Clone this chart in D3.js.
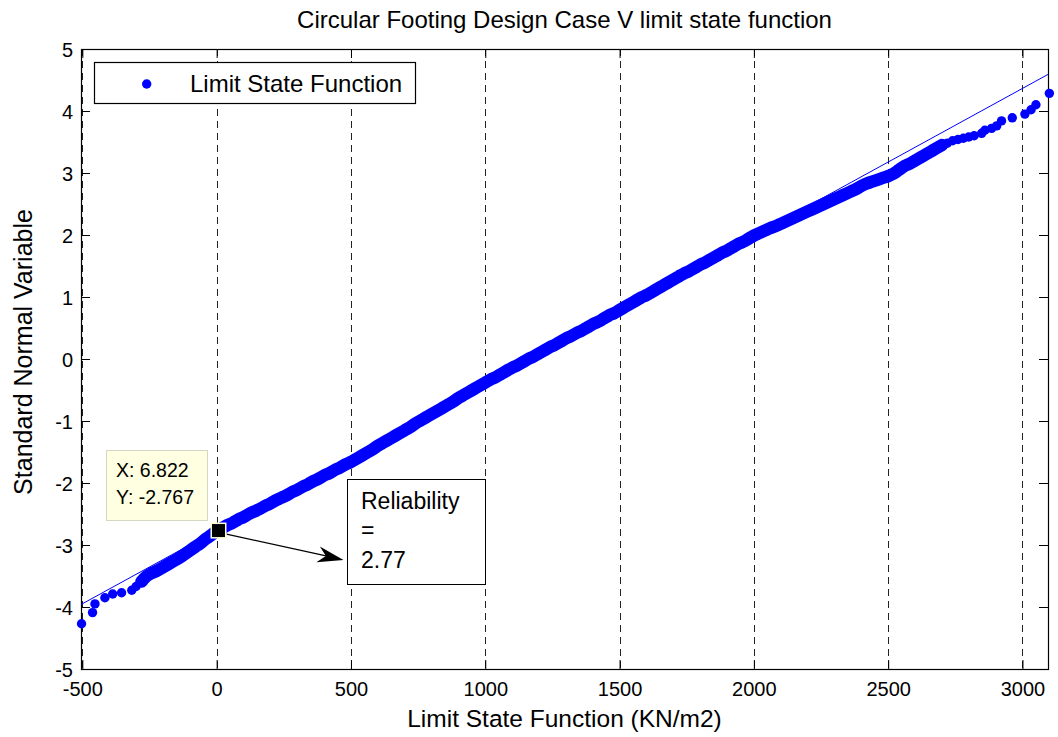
<!DOCTYPE html>
<html>
<head>
<meta charset="utf-8">
<script src="https://cdn.jsdelivr.net/npm/d3@7"></script>
<style>
  html, body { margin: 0; padding: 0; background: #fff; }
  svg { display: block; font-family: "Liberation Sans", Arial, sans-serif; }
</style>
</head>
<body>
<svg id="chart" width="1058" height="737"></svg>
<script>
// ---- data ----
const titleText = "Circular Footing Design Case V limit state function";
const xLabelText = "Limit State Function (KN/m2)";
const yLabelText = "Standard Normal Variable";
const legendLabel = "Limit State Function";

const xTicks = [-500, 0, 500, 1000, 1500, 2000, 2500, 3000];
const yTicks = [-5, -4, -3, -2, -1, 0, 1, 2, 3, 4, 5];
const xDomain = [-505, 3095];
const yDomain = [-5, 5];

// limit state function values (KN/m2)
const lsfValues = [
  -503, -462, -453, -416, -387, -354, -316,
  -300, -280, -260, -240, -220, -200, -180, -160, -140, -120, -100, -80, -60, -40, -20,
  0, 20, 40, 60, 80, 100, 120, 140, 160, 180, 200, 220, 240, 260, 280, 300, 320, 340, 360, 380,
  400, 420, 440, 460, 480, 500, 520, 540, 560, 580, 600, 620, 640, 660, 680, 700, 720, 740, 760, 780,
  800, 820, 840, 860, 880, 900, 920, 940, 960, 980, 1000, 1020, 1040, 1060, 1080, 1100, 1120, 1140, 1160, 1180,
  1200, 1220, 1240, 1260, 1280, 1300, 1320, 1340, 1360, 1380, 1400, 1420, 1440, 1460, 1480, 1500, 1520, 1540, 1560, 1580,
  1600, 1620, 1640, 1660, 1680, 1700, 1720, 1740, 1760, 1780, 1800, 1820, 1840, 1860, 1880, 1900, 1920, 1940, 1960, 1980,
  2000, 2020, 2040, 2060, 2080, 2100, 2120, 2140, 2160, 2180, 2200, 2220, 2240, 2260, 2280, 2300, 2320, 2340, 2360, 2380,
  2400, 2420, 2440, 2460, 2480, 2500, 2520, 2540, 2560, 2580, 2600, 2620, 2640, 2660, 2680, 2700, 2720, 2740, 2760, 2780,
  2800, 2820, 2848, 2860, 2885, 2904, 2922, 2962, 3009, 3032, 3050, 3100
];
// standard normal variable
const snvValues = [
  -4.27, -4.09, -3.95, -3.85, -3.79, -3.77, -3.73,
  -3.67, -3.59, -3.50, -3.45, -3.41, -3.36, -3.31, -3.26, -3.21, -3.15, -3.09, -3.03, -2.97, -2.90, -2.84,
  -2.77, -2.73, -2.68, -2.64, -2.59, -2.55, -2.50, -2.46, -2.42, -2.37, -2.33, -2.28, -2.24, -2.20, -2.15, -2.11, -2.06, -2.02, -1.97, -1.93,
  -1.88, -1.84, -1.79, -1.75, -1.70, -1.66, -1.61, -1.56, -1.51, -1.46, -1.40, -1.35, -1.30, -1.25, -1.20, -1.15, -1.10, -1.04, -0.99, -0.94,
  -0.89, -0.84, -0.79, -0.74, -0.69, -0.63, -0.58, -0.53, -0.48, -0.43, -0.38, -0.33, -0.29, -0.24, -0.19, -0.14, -0.10, -0.05, 0.00, 0.04,
  0.09, 0.14, 0.19, 0.23, 0.28, 0.33, 0.37, 0.42, 0.46, 0.51, 0.56, 0.60, 0.65, 0.70, 0.74, 0.79, 0.84, 0.89, 0.94, 0.99,
  1.03, 1.08, 1.13, 1.18, 1.23, 1.28, 1.33, 1.38, 1.42, 1.47, 1.52, 1.56, 1.61, 1.66, 1.71, 1.75, 1.80, 1.85, 1.89, 1.94,
  1.99, 2.03, 2.07, 2.11, 2.14, 2.18, 2.22, 2.26, 2.30, 2.34, 2.38, 2.42, 2.46, 2.50, 2.54, 2.58, 2.62, 2.66, 2.70, 2.74,
  2.79, 2.83, 2.86, 2.89, 2.92, 2.95, 2.99, 3.05, 3.11, 3.15, 3.20, 3.25, 3.30, 3.35, 3.40, 3.45, 3.48, 3.52, 3.54, 3.56,
  3.58, 3.60, 3.64, 3.69, 3.72, 3.76, 3.84, 3.89, 3.95, 4.02, 4.10, 4.285
];
// range of LSF values where the samples are so dense that they merge into a thick band
const denseRange = [-290, 2700];

// fitted reference line end points
const refLineX = [-505, 3095];
const refLineY = [-3.96, 4.59];

// data tip and annotation
const tipX = 6.822;
const tipY = -2.767;
const tipLines = ["X: 6.822", "Y: -2.767"];
const noteLines = ["Reliability", "=", "2.77"];

// ---- layout ----
const svg = d3.select("#chart");
const plot = { left: 81, right: 1048, top: 49, bottom: 669 };
const x = d3.scaleLinear().domain(xDomain).range([plot.left, plot.right]);
const y = d3.scaleLinear().domain(yDomain).range([plot.bottom, plot.top]);
const blue = "#0000ff";
const FONT = '"Liberation Sans", Arial, sans-serif';

svg.append("rect").attr("width", 1058).attr("height", 737).attr("fill", "#fff");

// vertical grid lines
svg.append("g").selectAll("line").data(xTicks).join("line")
  .attr("x1", d => Math.round(x(d)) + 0.5).attr("x2", d => Math.round(x(d)) + 0.5)
  .attr("y1", plot.top).attr("y2", plot.bottom)
  .attr("stroke", "#222").attr("stroke-width", 1).attr("stroke-dasharray", "7,5");

// axes with ticks inward
const tickLen = 9;
const gx = svg.append("g").attr("transform", `translate(0,${plot.bottom})`)
  .call(d3.axisBottom(x).tickValues(xTicks).tickFormat(d => String(d)).tickSizeInner(-tickLen).tickSizeOuter(0));
const gxTop = svg.append("g").attr("transform", `translate(0,${plot.top})`)
  .call(d3.axisTop(x).tickValues(xTicks).tickFormat("").tickSizeInner(-tickLen).tickSizeOuter(0));
const gy = svg.append("g").attr("transform", `translate(${plot.left},0)`)
  .call(d3.axisLeft(y).tickValues(yTicks).tickFormat(d => String(d)).tickSizeInner(-tickLen).tickSizeOuter(0).tickPadding(8));
const gyRight = svg.append("g").attr("transform", `translate(${plot.right},0)`)
  .call(d3.axisRight(y).tickValues(yTicks).tickFormat("").tickSizeInner(-tickLen).tickSizeOuter(0));
[gx, gxTop, gy, gyRight].forEach(g => {
  g.select(".domain").remove();
  g.selectAll(".tick line").attr("stroke", "#000");
  g.selectAll("text").attr("fill", "#000").style("font-size", "20px").style("font-family", FONT);
});
gx.selectAll("text").attr("dy", "0.71em").attr("y", 13);
gy.selectAll("text").attr("dy", "0.36em");

// box
svg.append("rect").attr("x", plot.left + 0.5).attr("y", plot.top + 0.5)
  .attr("width", plot.right - plot.left).attr("height", plot.bottom - plot.top)
  .attr("fill", "none").attr("stroke", "#000").attr("stroke-width", 1.2);

// reference line
svg.append("line")
  .attr("x1", x(refLineX[0])).attr("y1", y(refLineY[0]))
  .attr("x2", x(refLineX[1])).attr("y2", y(refLineY[1]))
  .attr("stroke", blue).attr("stroke-width", 1);

// data points
const pts = lsfValues.map((v, i) => ({ v, z: snvValues[i] }));
const densePts = pts.filter(d => d.v >= denseRange[0] && d.v <= denseRange[1]);
svg.append("path").datum(densePts)
  .attr("d", d3.line().x(d => x(d.v)).y(d => y(d.z)).curve(d3.curveMonotoneX))
  .attr("fill", "none").attr("stroke", blue).attr("stroke-width", 12.5)
  .attr("stroke-linejoin", "round").attr("stroke-linecap", "round");
svg.append("g").selectAll("circle").data(pts).join("circle")
  .attr("cx", d => x(d.v)).attr("cy", d => y(d.z)).attr("r", 4.7)
  .attr("fill", blue);

// title and labels
svg.append("text").attr("x", (plot.left + plot.right) / 2).attr("y", 28)
  .attr("text-anchor", "middle").style("font-size", "24px").text(titleText);
svg.append("text").attr("x", (plot.left + plot.right) / 2).attr("y", 727)
  .attr("text-anchor", "middle").style("font-size", "24.5px").text(xLabelText);
svg.append("text").attr("transform", `translate(32,${(plot.top + plot.bottom) / 2 - 7}) rotate(-90)`)
  .attr("text-anchor", "middle").style("font-size", "25px").text(yLabelText);

// legend
const lg = svg.append("g");
lg.append("rect").attr("x", 94.5).attr("y", 62.5).attr("width", 321).attr("height", 41)
  .attr("fill", "#fff").attr("stroke", "#000").attr("stroke-width", 1.2);
lg.append("circle").attr("cx", 146.7).attr("cy", 84).attr("r", 4.7).attr("fill", blue);
lg.append("text").attr("x", 190).attr("y", 92).style("font-size", "24px").text(legendLabel);

// annotation arrow
const ax0 = x(tipX) + 8, ay0 = y(tipY) + 3.5;
const tipPx = [343.5, 560];
svg.append("line").attr("x1", ax0).attr("y1", ay0).attr("x2", tipPx[0] - 14).attr("y2", tipPx[1] - 3.3)
  .attr("stroke", "#000").attr("stroke-width", 1.2);
(function () {
  const dx = tipPx[0] - ax0, dy = tipPx[1] - ay0;
  const L = Math.hypot(dx, dy), ux = dx / L, uy = dy / L, nx = -uy, ny = ux;
  const back = 26, half = 8, notch = 18;
  const p = [
    [tipPx[0], tipPx[1]],
    [tipPx[0] - ux * back + nx * half, tipPx[1] - uy * back + ny * half],
    [tipPx[0] - ux * notch, tipPx[1] - uy * notch],
    [tipPx[0] - ux * back - nx * half, tipPx[1] - uy * back - ny * half]
  ];
  svg.append("polygon").attr("points", p.map(q => q.join(",")).join(" ")).attr("fill", "#000");
})();

// annotation text box
const nb = svg.append("g");
nb.append("rect").attr("x", 347.5).attr("y", 479.5).attr("width", 138).attr("height", 105)
  .attr("fill", "#fff").attr("stroke", "#000").attr("stroke-width", 1);
nb.selectAll("text").data(noteLines).join("text")
  .attr("x", 361).attr("y", (d, i) => 509 + i * 29.3).style("font-size", "23px").text(d => d);

// data tip box
const tb = svg.append("g");
tb.append("rect").attr("x", 106.5).attr("y", 450.5).attr("width", 101).attr("height", 70)
  .attr("fill", "#ffffe1").attr("stroke", "#d6d6c4").attr("stroke-width", 1);
tb.selectAll("text").data(tipLines).join("text")
  .attr("x", 116).attr("y", (d, i) => 477 + i * 26.5).style("font-size", "19.5px").text(d => d);

// data tip marker
svg.append("rect").attr("x", x(tipX) - 8).attr("y", y(tipY) - 8).attr("width", 16).attr("height", 16)
  .attr("fill", "#ffffd0");
svg.append("rect").attr("x", x(tipX) - 6.5).attr("y", y(tipY) - 6.5).attr("width", 13).attr("height", 13)
  .attr("fill", "#000");
</script>
</body>
</html>
